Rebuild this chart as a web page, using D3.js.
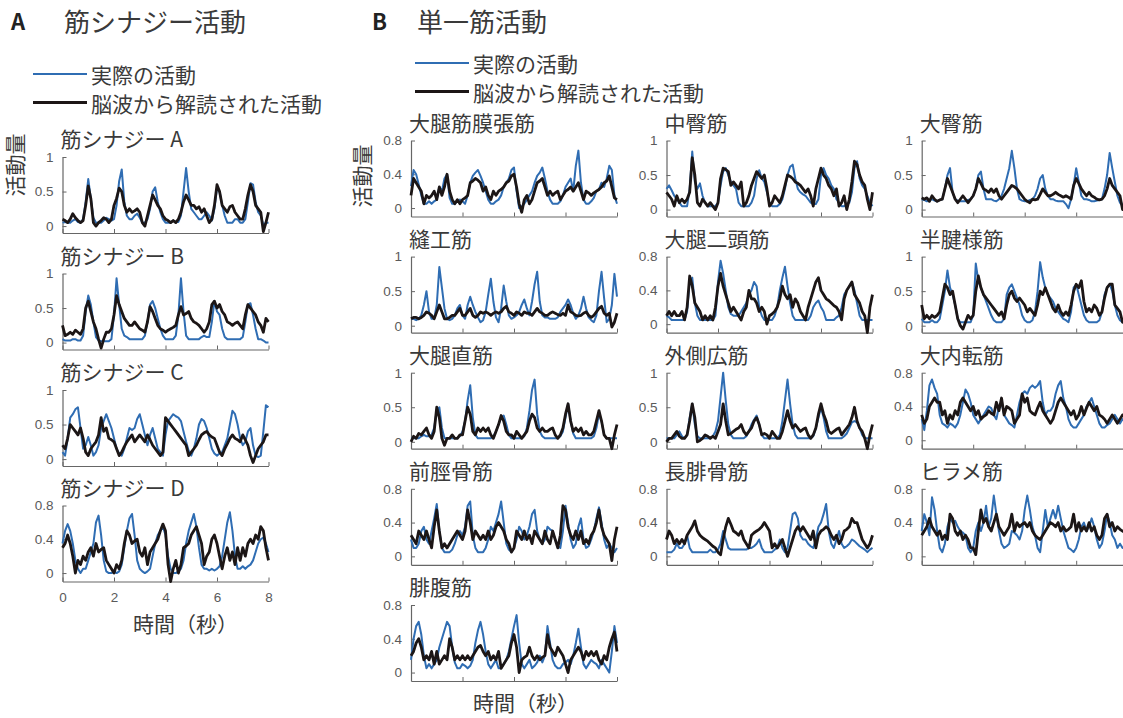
<!DOCTYPE html>
<html>
<head>
<meta charset="utf-8">
<script src="https://cdn.jsdelivr.net/npm/d3@7"></script>
<style>
  body { margin: 0; background: #fff; }
  text { font-family: "Noto Sans CJK JP", "Noto Sans", sans-serif; }
  .tick text { font-family: "Liberation Sans", Arial, sans-serif; }
</style>
</head>
<body>
<div id="chart"></div>
<script>
/* DATA (sampled every 0.1 s from 0 to 8 s) */
const time = d3.range(81).map(i => i / 10);
const xTicks = [0, 2, 4, 6, 8];

const synergyNames = ["筋シナジー A", "筋シナジー B", "筋シナジー C", "筋シナジー D"];
const synergyMax = [1, 1, 1, 0.8];

const muscleNames = ["大腿筋膜張筋", "中臀筋", "大臀筋", "縫工筋", "大腿二頭筋", "半腱様筋",
  "大腿直筋", "外側広筋", "大内転筋", "前脛骨筋", "長腓骨筋", "ヒラメ筋", "腓腹筋"];
const muscleMax = [0.8, 1, 1, 1, 0.8, 1, 1, 1, 0.8, 0.8, 0.8, 0.8, 0.8];

const legendLabels = ["実際の活動", "脳波から解読された活動"];

// synergies
const synA_actual = [
  .05,.06,.05,.05,.08,.10,.06,.05,.10,.35,
  .68,.40,.12,.05,.05,.05,.08,.12,.10,.08,
  .10,.30,.65,.82,.35,.15,.10,.10,.15,.18,
  .12,.05,.05,.10,.25,.50,.56,.35,.20,.10,
  .05,.05,.05,.08,.06,.06,.15,.50,.84,.50,
  .25,.20,.15,.10,.10,.15,.20,.15,.08,.25,
  .55,.50,.30,.15,.05,.05,.05,.10,.10,.05,
  .05,.10,.35,.62,.60,.35,.20,.15,.02,.05,
  .05];
const synA_decoded = [
  .10,.08,.05,.10,.18,.12,.08,.05,.08,.30,
  .58,.40,.05,.00,.05,.08,.12,.10,.05,.10,
  .30,.40,.55,.50,.30,.20,.25,.20,.22,.25,
  .20,.05,.00,.15,.30,.45,.38,.30,.25,.15,
  .10,.08,.05,.08,.05,.10,.20,.35,.45,.38,
  .30,.30,.25,.28,.20,.25,.15,.05,.10,.30,
  .60,.50,.30,.25,.20,.28,.30,.20,.15,.10,
  .10,.25,.45,.60,.50,.30,.25,.20,-.08,.05,
  .20];
const synB_actual = [
  .05,.03,.03,.03,.05,.05,.03,.03,.10,.45,
  .68,.55,.30,.08,.03,.02,.02,.02,.02,.05,
  .40,.93,.55,.20,.10,.08,.05,.05,.05,.05,
  .05,.05,.10,.30,.55,.60,.50,.35,.20,.10,
  .05,.05,.05,.05,.10,.40,.93,.45,.10,.05,
  .05,.05,.05,.05,.08,.10,.08,.08,.30,.60,
  .45,.40,.20,.08,.05,.05,.05,.05,.05,.05,
  .08,.30,.55,.57,.40,.20,.05,.05,.03,.00,
  .00];
const synB_decoded = [
  .25,.10,.12,.15,.12,.18,.15,.12,.20,.50,
  .60,.45,.30,.20,.05,-.08,.05,.15,.15,.20,
  .40,.68,.55,.45,.35,.30,.25,.25,.30,.25,
  .20,.18,.15,.30,.52,.45,.35,.25,.20,.18,
  .15,.18,.20,.22,.25,.40,.52,.40,.42,.45,
  .35,.30,.28,.25,.20,.15,.20,.30,.55,.60,
  .50,.55,.45,.40,.30,.28,.25,.28,.30,.25,
  .20,.40,.55,.50,.45,.40,.30,.25,.15,.35,
  .30];
const synC_actual = [
  .10,.05,.30,.60,.65,.72,.75,.45,.15,.20,
  .32,.20,.05,.10,.20,.45,.55,.65,.55,.45,
  .30,.15,.08,.05,.15,.30,.45,.42,.45,.58,
  .65,.50,.35,.20,.35,.45,.30,.15,.10,.05,
  .35,.55,.60,.65,.62,.60,.55,.40,.25,.12,
  .05,.15,.30,.50,.58,.55,.45,.30,.15,.08,
  .05,.08,.10,.20,.30,.50,.70,.65,.50,.30,
  .20,.25,.40,.45,.20,.05,.03,.05,.40,.78,
  .75];
const synC_decoded = [
  .20,.15,.30,.50,.45,.40,.35,.45,.30,.10,
  .05,.15,.20,.25,.35,.60,.40,.45,.30,.28,
  .25,.15,.05,.10,.18,.25,.30,.35,.25,.30,
  .35,.30,.25,.35,.28,.20,.15,.10,.05,.10,
  .60,.55,.50,.45,.40,.35,.30,.25,.20,.05,
  .10,.15,.20,.28,.35,.38,.40,.35,.32,.30,
  .20,.10,.05,.15,.22,.30,.35,.30,.28,.25,
  .35,.28,.20,.05,-.05,.05,.15,.20,.25,.35,
  .35];
const synD_actual = [
  .35,.50,.58,.50,.35,.15,.05,.00,.05,.05,
  .15,.25,.35,.60,.68,.45,.15,.02,.00,.00,
  .02,.00,.02,.10,.30,.50,.65,.70,.45,.15,
  .05,.02,.00,.02,.05,.20,.35,.45,.50,.55,
  .45,.20,.05,.00,.00,.02,.05,.15,.35,.50,
  .60,.70,.55,.30,.10,.05,.05,.03,.05,.03,
  .05,.08,.20,.40,.60,.72,.50,.20,.05,.05,
  .08,.05,.08,.10,.15,.25,.35,.40,.42,.35,
  .25];
const synD_decoded = [
  .30,.35,.45,.35,.20,.00,.15,.10,.20,.15,
  .25,.30,.20,.35,.25,.28,.30,.15,.10,.05,
  .00,.10,.05,.15,.35,.50,.45,.35,.38,.40,
  .25,.20,.30,.10,.25,.30,.35,.40,.50,.58,
  .50,.10,-.10,.05,.15,.00,.10,.30,.32,.35,
  .45,.50,.55,.45,.35,.10,.20,.25,.40,.45,
  .35,.20,.05,.20,.30,.15,.25,.10,.30,.15,
  .30,.20,.35,.40,.35,.45,.40,.55,.50,.30,
  .15];

// single muscles
const tfl_actual = [
  .26,.45,.40,.28,.15,.05,.05,.08,.05,.08,
  .10,.25,.20,.35,.40,.12,.05,.05,.08,.10,
  .08,.05,.15,.30,.38,.42,.45,.38,.30,.20,
  .10,.05,.05,.08,.10,.15,.25,.30,.35,.45,
  .48,.20,.00,.02,.05,.10,.15,.20,.30,.38,
  .42,.48,.35,.20,.10,.05,.05,.05,.08,.15,
  .25,.30,.35,.20,.50,.68,.30,.10,.05,.05,
  .08,.12,.20,.22,.30,.25,.35,.50,.45,.15,
  .05];
const tfl_decoded = [
  .15,.35,.30,.25,.20,.05,.15,.12,.15,.20,
  .10,.25,.15,.25,.40,.20,.10,.05,.10,.05,
  .10,.12,.15,.30,.32,.35,.33,.30,.20,.25,
  .15,.10,.20,.15,.20,.22,.25,.30,.32,.38,
  .40,.25,.05,-.05,.10,.15,.05,.10,.20,.30,
  .32,.35,.25,.15,.20,.15,.18,.20,.10,.15,
  .20,.22,.25,.20,.25,.30,.20,.10,.20,.18,
  .15,.18,.20,.22,.25,.30,.32,.38,.25,.12,
  .10];
const gmed_actual = [
  .30,.35,.28,.20,.15,.10,.05,.05,.05,.30,
  .84,.40,.30,.38,.20,.10,.05,.05,.05,.05,
  .10,.35,.55,.60,.50,.40,.35,.30,.10,.05,
  .05,.05,.05,.10,.20,.45,.57,.45,.40,.25,
  .10,.05,.05,.05,.08,.15,.30,.50,.62,.65,
  .45,.30,.25,.22,.20,.15,.10,.08,.08,.15,
  .50,.60,.50,.45,.35,.30,.15,.10,.05,.05,
  .08,.10,.25,.60,.70,.45,.35,.30,.20,.10,
  .05];
const gmed_decoded = [
  .25,.20,.15,.05,.20,.10,.15,.10,.15,.25,
  .75,.50,.10,.05,.15,.10,.05,.10,.05,.00,
  .10,.45,.60,.58,.55,.35,.40,.35,.30,.40,
  .05,.10,.20,.35,.45,.55,.50,.45,.50,.30,
  .05,.10,.20,.15,.10,.20,.35,.50,.48,.45,
  .40,.38,.35,.30,.25,.30,.20,.05,.30,.45,
  .60,.50,.45,.35,.30,.20,.30,.05,.10,.20,
  .00,.15,.40,.70,.65,.50,.40,.35,.15,.00,
  .25];
const gmax_actual = [
  .15,.14,.12,.14,.15,.13,.12,.14,.15,.30,
  .50,.60,.25,.15,.13,.12,.12,.12,.14,.15,
  .20,.30,.50,.55,.30,.15,.15,.15,.13,.12,
  .15,.20,.30,.45,.60,.85,.60,.30,.15,.13,
  .12,.12,.14,.15,.20,.30,.45,.50,.30,.20,
  .15,.15,.13,.12,.12,.12,.08,.02,.15,.35,
  .60,.40,.20,.15,.15,.14,.12,.12,.13,.14,
  .15,.30,.50,.82,.60,.40,.20,.10,.05,.15,
  .10];
const gmax_decoded = [
  .17,.15,.17,.12,.20,.15,.12,.14,.15,.30,
  .45,.35,.25,.15,.10,.15,.20,.15,.10,.15,
  .20,.30,.45,.38,.30,.28,.25,.30,.25,.30,
  .20,.15,.20,.25,.30,.35,.33,.30,.25,.20,
  .15,.12,.10,.15,.14,.15,.22,.30,.25,.20,
  .20,.22,.25,.22,.20,.18,.20,.18,.15,.35,
  .45,.38,.30,.25,.20,.25,.20,.18,.15,.14,
  .15,.20,.30,.45,.35,.30,.25,.20,.00,.05,
  .10];
const sart_actual = [
  .10,.10,.08,.10,.15,.30,.50,.20,.10,.10,
  .30,.85,.55,.25,.10,.08,.10,.15,.25,.30,
  .15,.10,.30,.42,.30,.20,.12,.05,.08,.20,
  .45,.68,.35,.12,.05,.25,.58,.35,.15,.10,
  .12,.15,.20,.30,.38,.25,.15,.35,.60,.78,
  .35,.15,.12,.12,.10,.10,.10,.12,.20,.25,
  .30,.38,.30,.18,.10,.15,.25,.42,.25,.12,
  .08,.05,.15,.50,.78,.40,.05,.10,.30,.75,
  .42];
const sart_decoded = [
  .10,.12,.12,.10,.12,.15,.20,.18,.15,.10,
  .20,.30,.20,.10,.10,.12,.15,.15,.20,.25,
  .15,.15,.20,.25,.15,.12,.15,.20,.18,.20,
  .18,.15,.18,.20,.18,.20,.25,.28,.20,.18,
  .15,.20,.18,.15,.20,.18,.18,.15,.20,.25,
  .20,.18,.15,.15,.18,.20,.18,.16,.15,.18,
  .15,.30,.20,.18,.15,.14,.15,.18,.20,.15,
  .12,.15,.20,.25,.28,.18,.15,.18,-.02,.05,
  .18];
const bf_actual = [
  .10,.08,.05,.05,.05,.05,.05,.05,.15,.50,
  .55,.25,.10,.05,.05,.05,.05,.05,.05,.10,
  .50,.75,.60,.40,.20,.12,.10,.10,.10,.15,
  .20,.25,.35,.40,.50,.45,.20,.10,.05,.05,
  .05,.05,.10,.20,.40,.55,.68,.45,.25,.10,
  .05,.05,.05,.05,.05,.05,.10,.20,.25,.28,
  .20,.15,.05,.05,.05,.05,.08,.10,.20,.35,
  .40,.45,.50,.40,.25,.10,.05,.05,.05,.05,
  .05];
const bf_decoded = [
  .10,.15,.10,.15,.10,.10,.15,.05,.20,.57,
  .45,.25,.20,.15,.05,.10,.05,.10,.05,.20,
  .45,.60,.45,.35,.25,.15,.20,.15,.10,.05,
  .15,.20,.40,.30,.30,.25,.15,.20,.15,.00,
  .10,.12,.15,.20,.30,.45,.35,.30,.35,.20,
  .30,.25,.15,.10,.05,.20,.30,.40,.50,.55,
  .40,.35,.30,.28,.25,.22,.20,.15,.05,.30,
  .40,.45,.50,.35,.30,.25,.15,.10,-.10,.20,
  .35];
const rf_actual = [
  .05,.05,.05,.05,.08,.10,.08,.08,.10,.20,
  .45,.50,.20,.05,.05,.05,.05,.05,.05,.08,
  .15,.30,.60,.82,.35,.10,.05,.05,.05,.05,
  .05,.05,.08,.15,.25,.35,.38,.25,.10,.05,
  .05,.05,.05,.05,.08,.20,.45,.75,.90,.40,
  .15,.08,.05,.05,.05,.05,.05,.05,.08,.15,
  .35,.55,.30,.12,.05,.05,.05,.05,.05,.05,
  .05,.08,.20,.40,.30,.10,.05,.05,.05,.05,
  .05];
const rf_decoded = [
  .00,.08,.05,.12,.10,.15,.20,.10,.05,.15,
  .50,.35,.05,-.05,.05,.05,.10,.05,.05,.10,
  .10,.30,.50,.40,.15,.10,.20,.15,.20,.15,
  .20,.10,.05,.15,.25,.38,.30,.15,.10,.10,
  .05,.15,.10,.05,.10,.15,.30,.40,.35,.20,
  .15,.20,.15,.15,.18,.20,.10,.05,.10,.20,
  .40,.55,.30,.15,.20,.15,.20,.10,.15,.10,
  .10,.15,.30,.45,.30,.10,.05,.05,-.10,.10,
  .25];
const vl_actual = [
  .05,.05,.05,.05,.10,.15,.08,.05,.10,.35,
  .55,.25,.08,.05,.05,.05,.05,.05,.08,.15,
  .30,.65,1.0,.60,.25,.10,.05,.05,.05,.05,
  .05,.08,.15,.25,.32,.38,.25,.10,.05,.05,
  .05,.05,.05,.05,.10,.30,.60,.90,.55,.25,
  .10,.05,.05,.05,.05,.05,.05,.08,.20,.35,
  .50,.35,.15,.05,.05,.05,.05,.05,.05,.08,
  .12,.20,.28,.30,.28,.20,.10,.05,.05,.05,
  .05];
const vl_decoded = [
  .00,.05,.05,.10,.15,.08,.05,.05,.10,.30,
  .55,.35,.00,.02,.05,.10,.08,.05,.08,.05,
  .15,.25,.55,.30,.10,.12,.15,.18,.20,.25,
  .15,.10,.15,.20,.30,.35,.25,.10,.12,.10,
  .05,.15,.10,.05,.05,.15,.30,.45,.30,.20,
  .25,.20,.15,.18,.20,.10,.05,.10,.20,.40,
  .55,.40,.30,.15,.12,.15,.18,.20,.10,.15,
  .20,.25,.35,.50,.30,.20,.15,.05,-.10,.10,
  .25];
const st_actual = [
  .10,.05,.05,.05,.08,.05,.05,.10,.30,.50,
  .80,.55,.45,.30,.10,.05,.05,.05,.05,.05,
  .15,.90,.65,.55,.45,.35,.25,.15,.08,.05,
  .05,.05,.10,.45,.55,.60,.50,.40,.30,.15,
  .08,.05,.05,.08,.20,.50,.92,.70,.55,.45,
  .40,.35,.25,.20,.15,.10,.08,.05,.20,.55,
  .60,.45,.30,.15,.08,.05,.05,.05,.05,.08,
  .20,.45,.55,.60,.50,.30,.15,.08,.05,.05,
  .05];
const st_decoded = [
  .30,.10,.15,.10,.15,.12,.15,.20,.40,.60,
  .55,.45,.50,.30,.10,.00,-.05,.05,.15,.10,
  .15,.50,.72,.55,.45,.40,.35,.30,.25,.20,
  .15,.20,.10,.30,.45,.50,.40,.35,.40,.35,
  .30,.20,.25,.20,.15,.30,.50,.45,.55,.45,
  .35,.25,.20,.30,.20,.15,.20,.15,.30,.50,
  .60,.55,.65,.35,.20,.25,.20,.30,.25,.15,
  .20,.40,.55,.60,.60,.30,.25,.20,.05,.10,
  .10];
const am_actual = [
  .25,.12,.35,.65,.72,.62,.55,.30,.20,.18,
  .15,.20,.18,.15,.20,.30,.45,.60,.55,.45,
  .30,.25,.20,.25,.30,.35,.40,.38,.30,.25,
  .40,.45,.30,.25,.20,.18,.15,.30,.45,.55,
  .58,.55,.62,.65,.62,.65,.70,.45,.30,.35,
  .35,.40,.55,.65,.70,.50,.40,.25,.18,.15,
  .15,.20,.25,.30,.40,.45,.50,.40,.30,.20,
  .15,.15,.18,.20,.25,.30,.25,.20,.25,.22,
  .20];
const am_decoded = [
  .30,.20,.25,.40,.45,.50,.45,.45,.30,.35,
  .20,.30,.25,.35,.30,.45,.50,.45,.40,.35,
  .40,.30,.35,.25,.28,.30,.35,.32,.30,.45,
  .35,.50,.30,.40,.38,.35,.20,.25,.30,.55,
  .45,.50,.35,.32,.30,.38,.45,.35,.30,.25,
  .20,.25,.35,.45,.50,.45,.40,.35,.30,.35,
  .25,.30,.40,.30,.38,.45,.40,.35,.40,.30,
  .28,.25,.20,.25,.30,.25,.20,.25,.30,.28,
  .25];
const ta_actual = [
  .20,.10,.10,.15,.30,.35,.20,.15,.30,.45,
  .62,.30,.10,.05,.05,.05,.08,.15,.25,.30,
  .25,.35,.60,.65,.25,.10,.05,.05,.05,.10,
  .20,.35,.30,.40,.50,.65,.40,.15,.08,.05,
  .10,.20,.35,.30,.20,.25,.35,.50,.55,.30,
  .20,.15,.20,.35,.32,.30,.20,.12,.10,.30,
  .60,.40,.20,.10,.15,.35,.45,.20,.10,.12,
  .20,.30,.45,.58,.40,.20,.10,.15,.10,.05,
  .10];
const ta_decoded = [
  .25,.20,.15,.30,.25,.20,.30,.20,.10,.35,
  .55,.30,.10,.15,.10,.15,.20,.25,.30,.25,
  .20,.30,.55,.40,.20,.30,.25,.20,.25,.20,
  .30,.20,.25,.35,.40,.35,.30,.20,.15,.05,
  .10,.30,.25,.20,.30,.20,.25,.15,.30,.25,
  .20,.15,.30,.20,.15,.30,.20,.10,.25,.60,
  .55,.35,.25,.20,.30,.20,.30,.15,.20,.15,
  .25,.30,.40,.55,.35,.25,.20,.15,-.05,.20,
  .35];
const pl_actual = [
  .05,.05,.05,.08,.15,.10,.10,.15,.25,.10,
  .05,.05,.05,.05,.05,.05,.05,.08,.05,.05,
  .08,.15,.30,.20,.10,.08,.08,.08,.08,.08,
  .08,.08,.10,.10,.12,.15,.20,.10,.05,.05,
  .05,.05,.08,.10,.20,.10,.05,.10,.30,.50,
  .52,.45,.25,.20,.20,.15,.12,.10,.20,.35,
  .40,.50,.62,.30,.15,.10,.20,.30,.15,.10,
  .12,.15,.20,.18,.15,.12,.10,.08,.05,.08,
  .10];
const pl_decoded = [
  .20,.30,.25,.15,.20,.15,.20,.15,.25,.30,
  .35,.42,.30,.25,.22,.20,.18,.15,.12,.10,
  .05,.02,.20,.35,.45,.38,.30,.28,.25,.30,
  .20,.15,.10,.25,.28,.30,.32,.35,.40,.35,
  .30,.10,.15,.10,.15,.20,.10,.00,.10,.20,
  .30,.35,.30,.35,.30,.25,.20,.30,.10,.25,
  .30,.32,.35,.32,.25,.20,.25,.15,.20,.30,
  .32,.35,.45,.40,.40,.30,.20,.15,.10,.15,
  .25];
const sol_actual = [
  .30,.50,.40,.25,.70,.55,.30,.10,.05,.15,
  .35,.45,.40,.42,.35,.30,.28,.25,.10,.05,
  .10,.30,.40,.30,.40,.60,.35,.45,.72,.50,
  .30,.15,.10,.12,.15,.30,.28,.25,.20,.30,
  .55,.72,.55,.35,.25,.10,.05,.30,.55,.35,
  .45,.55,.45,.60,.45,.30,.20,.10,.08,.05,
  .10,.20,.35,.40,.30,.35,.45,.35,.20,.10,
  .15,.30,.50,.40,.25,.20,.10,.15,.10,.10,
  .10];
const sol_decoded = [
  .25,.30,.35,.45,.35,.30,.25,.30,.20,.25,
  .20,.50,.45,.30,.25,.30,.20,.25,.20,.10,
  .10,.02,.30,.55,.40,.45,.35,.30,.40,.50,
  .35,.30,.25,.30,.35,.50,.30,.40,.35,.38,
  .40,.35,.40,.30,.25,.22,.20,.25,.30,.35,
  .40,.38,.35,.40,.30,.35,.30,.32,.35,.50,
  .30,.40,.30,.35,.30,.40,.30,.35,.25,.20,
  .25,.45,.50,.35,.40,.30,.35,.32,.30,.28,
  .25];
const gast_actual = [
  .15,.40,.55,.60,.45,.20,.05,.10,.05,.10,
  .15,.30,.40,.50,.60,.55,.30,.12,.05,.05,
  .10,.08,.05,.08,.15,.35,.50,.60,.45,.25,
  .10,.05,.10,.15,.05,.05,.10,.15,.25,.40,
  .55,.68,.35,.10,.05,.10,.15,.05,.08,.12,
  .20,.12,.20,.55,.35,.15,.08,.05,.05,.10,
  .12,.15,.10,.20,.35,.52,.30,.10,.05,.10,
  .15,.12,.10,.05,.15,.10,.05,.00,.25,.55,
  .35];
const gast_decoded = [
  .20,.25,.35,.40,.30,.15,.20,.15,.25,.10,
  .25,.10,.15,.20,.15,.40,.30,.15,.20,.15,
  .20,.15,.20,.15,.20,.25,.30,.32,.25,.20,
  .25,.15,.20,.15,.25,.05,.10,.15,.20,.35,
  .45,.30,.00,.15,.18,.20,.30,.20,.15,.20,
  .15,.18,.20,.45,.30,.25,.20,.30,.25,.20,
  .10,.00,.15,.20,.25,.30,.25,.15,.25,.20,
  .25,.20,.25,.15,.10,.20,.15,.30,.40,.48,
  .25];

const synergyActual = [synA_actual, synB_actual, synC_actual, synD_actual];
const synergyDecoded = [synA_decoded, synB_decoded, synC_decoded, synD_decoded];
const muscleActual = [tfl_actual, gmed_actual, gmax_actual, sart_actual, bf_actual, st_actual,
  rf_actual, vl_actual, am_actual, ta_actual, pl_actual, sol_actual, gast_actual];
const muscleDecoded = [tfl_decoded, gmed_decoded, gmax_decoded, sart_decoded, bf_decoded, st_decoded,
  rf_decoded, vl_decoded, am_decoded, ta_decoded, pl_decoded, sol_decoded, gast_decoded];

/* CONSTANTS */
const width = 1123, height = 718;
const BLUE = "#2f6db3", BLACK = "#1c1616", AXIS = "#666", TICK = "#5a5a5a", TEXT = "#3a3a3a";
const plotW = 206, plotH = 76;

const svg = d3.select("#chart").append("svg")
  .attr("width", width)
  .attr("height", height);

function subplot(x0, bottom, ymax, title, actual, decoded, showXLabels) {
  const x = d3.scaleLinear().domain([0, 8]).range([x0, x0 + plotW]);
  const y = d3.scaleLinear().domain([-0.1, ymax]).range([bottom, bottom - plotH]);
  const g = svg.append("g");

  const yAxis = d3.axisLeft(y)
    .tickValues([0, ymax / 2, ymax])
    .tickFormat(d => String(+d.toFixed(2)))
    .tickSize(-4).tickSizeOuter(0).tickPadding(9);
  const xAxis = d3.axisBottom(x)
    .tickValues(xTicks)
    .tickFormat(showXLabels ? d => d : "")
    .tickSize(-4).tickSizeOuter(0).tickPadding(11);

  const ya = g.append("g").attr("transform", `translate(${x0},0)`).call(yAxis);
  const xa = g.append("g").attr("transform", `translate(0,${bottom})`).call(xAxis);
  [ya, xa].forEach(a => {
    a.select(".domain").attr("stroke", AXIS).attr("stroke-width", 1.2);
    a.selectAll(".tick line").attr("stroke", AXIS);
    a.selectAll(".tick text").attr("fill", TICK).attr("font-size", 13.5);
  });

  const line = d3.line().x((d, i) => x(time[i])).y(d => y(d));
  g.append("path").datum(actual).attr("d", line)
    .attr("fill", "none").attr("stroke", BLUE).attr("stroke-width", 2).attr("stroke-linejoin", "round");
  g.append("path").datum(decoded).attr("d", line)
    .attr("fill", "none").attr("stroke", BLACK).attr("stroke-width", 2.8).attr("stroke-linejoin", "round");

  g.append("text")
    .attr("x", x0 - 2)
    .attr("y", bottom - plotH - 19)
    .attr("dominant-baseline", "central")
    .attr("font-size", 21)
    .attr("fill", TEXT)
    .text(title);
}

function legend(x0, y0) {
  [BLUE, BLACK].forEach((c, i) => {
    const yy = y0 + i * 28.5;
    svg.append("line").attr("x1", x0).attr("x2", x0 + 54).attr("y1", yy).attr("y2", yy)
      .attr("stroke", c).attr("stroke-width", i ? 2.8 : 2);
    svg.append("text").attr("x", x0 + 58).attr("y", yy).attr("dominant-baseline", "central")
      .attr("font-size", 21).attr("fill", TEXT).text(legendLabels[i]);
  });
}

function ylabel(cx, cy, txt) {
  svg.append("text")
    .attr("transform", `translate(${cx},${cy}) rotate(-90)`)
    .attr("text-anchor", "middle").attr("dominant-baseline", "central")
    .attr("font-size", 21).attr("fill", TEXT).text(txt);
}

/* PANEL HEADERS */
svg.append("text").attr("x", 11).attr("y", 20).attr("dominant-baseline", "central")
  .attr("font-family", "Liberation Sans, Arial, sans-serif").attr("font-weight", "bold")
  .attr("font-size", 22).attr("fill", "#222").text("A");
svg.append("text").attr("x", 64).attr("y", 20).attr("dominant-baseline", "central")
  .attr("font-size", 26).attr("fill", TEXT).text("筋シナジー活動");
svg.append("text").attr("x", 372).attr("y", 20).attr("dominant-baseline", "central")
  .attr("font-family", "Liberation Sans, Arial, sans-serif").attr("font-weight", "bold")
  .attr("font-size", 22).attr("fill", "#222").text("B");
svg.append("text").attr("x", 417).attr("y", 20).attr("dominant-baseline", "central")
  .attr("font-size", 26).attr("fill", TEXT).text("単一筋活動");

legend(33, 74);
legend(415, 63);

/* PANEL A: synergies */
const synBottoms = [233, 349.5, 466, 581.5];
synergyNames.forEach((name, i) => {
  subplot(62.5, synBottoms[i], synergyMax[i], name, synergyActual[i], synergyDecoded[i], i === 3);
});
ylabel(14, 165, "活動量");
svg.append("text").attr("x", 133).attr("y", 623).attr("dominant-baseline", "central")
  .attr("font-size", 21).attr("fill", TEXT).text("時間（秒）");

/* PANEL B: single muscles */
const colX = [411, 666.5, 921.7];
const rowBottoms = [216.5, 332.6, 448.7, 564.8, 681];
muscleNames.forEach((name, i) => {
  subplot(colX[i % 3], rowBottoms[Math.floor(i / 3)], muscleMax[i], name,
    muscleActual[i], muscleDecoded[i], false);
});
ylabel(361, 176, "活動量");
svg.append("text").attr("x", 473).attr("y", 702).attr("dominant-baseline", "central")
  .attr("font-size", 21).attr("fill", TEXT).text("時間（秒）");
</script>
</body>
</html>
